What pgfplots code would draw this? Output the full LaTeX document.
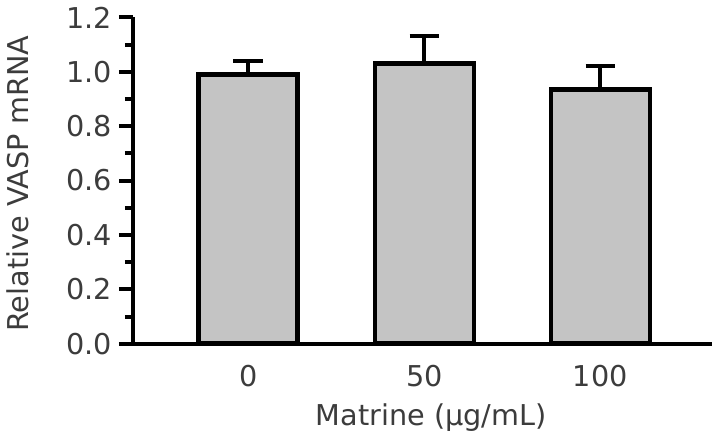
\documentclass[border=0pt]{standalone}
\usepackage{fontspec}
\setmainfont{DejaVu Sans}
\usepackage{pgfplots}
\pgfplotsset{compat=1.18}
\definecolor{barfill}{RGB}{196,196,196}
\definecolor{txt}{RGB}{60,60,60}

\begin{document}
\begin{tikzpicture}
\begin{axis}[
    width=286.5pt, height=161.5pt, scale only axis,
    ybar, bar width=49pt,
    xmin=-0.654, xmax=2.634,
    ymin=0, ymax=1.2,
    xtick={0,1,2}, xticklabels={0,50,100},
    ytick={0,0.2,0.4,0.6,0.8,1.0,1.2},
    minor y tick num=1,
    yticklabel style={/pgf/number format/.cd, fixed, fixed zerofill, precision=1},
    /pgf/number format/assume math mode=true,
    axis x line=bottom, axis y line=left,
    axis line style={-, line width=2pt, black},
    tick align=outside,
    major tick length=7pt, minor tick length=4pt,
    tick style={line width=2pt, black},
    xtick style={draw=none},
    tick label style={font=\fontsize{14.2}{17}\selectfont, text=txt},
    label style={font=\fontsize{14.2}{17}\selectfont, text=txt},
    xticklabel style={yshift=0pt},
    ylabel={Relative VASP mRNA},
    xlabel={Matrine (µg/mL)},
    ylabel style={at={(axis description cs:-0.199,0.49)}, anchor=center},
    xlabel style={at={(axis description cs:0.515,-0.225)}, anchor=center},
    clip=false,
]
\addplot[
    fill=barfill, draw=black, line width=2.2pt,
    error bars/.cd, y dir=plus, y explicit,
    error bar style={line width=2pt, black},
    error mark options={rotate=90, line width=2pt, black, mark size=7.3pt},
] coordinates {
    (0,0.99) +- (0,0.05)
    (1,1.03) +- (0,0.10)
    (2,0.935) +- (0,0.085)
};
\end{axis}
\end{tikzpicture}
\end{document}
